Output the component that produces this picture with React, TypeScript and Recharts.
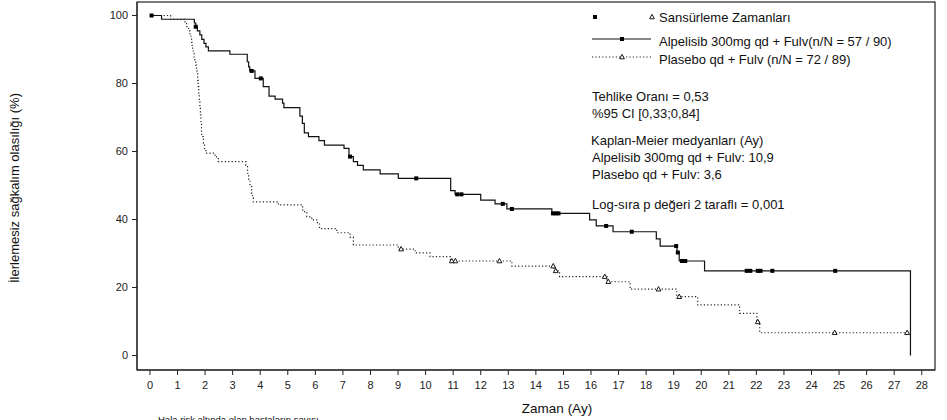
import React from 'react';
import { ComposedChart, Line, Scatter, XAxis, YAxis } from 'recharts';

// Alpelisib 300mg qd + Fulv: Kaplan-Meier step points (months, %)
const alpTimes = [0, 0.42, 1.61, 1.66, 1.72, 1.81, 1.88, 1.96, 2.03, 2.12, 2.9, 3.53, 3.58, 3.62, 3.81, 4.11, 4.32, 4.54, 4.81, 4.86, 5.44, 5.53, 5.6, 5.75, 6.13, 6.33, 7.04, 7.22, 7.38, 7.53, 7.74, 8.35, 9.01, 10.91, 11.07, 12.0, 12.52, 12.95, 14.58, 15.95, 16.19, 16.8, 18.37, 18.51, 19.12, 19.2, 20.12, 27.59];
const alpSurv = [100, 98.9, 97.8, 96.7, 95.5, 94.3, 93.0, 91.8, 90.8, 89.6, 88.6, 86.4, 84.9, 83.7, 81.5, 79.1, 76.3, 75.4, 74.2, 72.9, 70.4, 68.3, 65.5, 64.4, 63.2, 61.9, 60.9, 58.5, 57.0, 55.9, 54.6, 53.4, 52.1, 48.5, 47.4, 45.7, 44.6, 43.1, 41.8, 39.9, 38.1, 36.4, 34.3, 32.2, 30.3, 27.8, 24.9, 0];
const alpCensorTimes = [0.06, 1.66, 3.69, 4.02, 7.26, 9.66, 11.15, 11.3, 12.8, 13.13, 14.62, 14.72, 14.82, 16.55, 17.48, 19.09, 19.15, 19.3, 19.42, 21.65, 21.78, 22.05, 22.15, 22.58, 24.86];

// Plasebo qd + Fulv
const plaTimes = [0, 0.75, 1.27, 1.33, 1.4, 1.45, 1.49, 1.51, 1.53, 1.55, 1.57, 1.6, 1.63, 1.66, 1.69, 1.71, 1.73, 1.75, 1.77, 1.79, 1.81, 1.83, 1.85, 1.87, 1.88, 1.94, 1.98, 2.03, 2.36, 2.48, 3.48, 3.54, 3.58, 3.63, 3.69, 3.72, 3.75, 4.66, 5.54, 5.69, 5.87, 6.05, 6.15, 6.78, 7.26, 7.38, 9.01, 9.62, 10.16, 10.9, 13.13, 14.66, 14.86, 16.58, 17.42, 19.11, 19.87, 21.39, 22.02, 22.12, 27.5];
const plaSurv = [100, 98.9, 97.8, 96.7, 95.5, 94.4, 93.3, 92.1, 91.0, 89.9, 88.8, 87.6, 86.5, 85.4, 84.3, 83.1, 80.9, 79.1, 76.9, 74.6, 73.0, 70.8, 68.3, 65.5, 64.4, 62.4, 60.7, 59.5, 58.4, 57.0, 55.9, 53.6, 51.6, 49.7, 47.7, 46.4, 45.2, 44.3, 42.3, 40.8, 39.9, 39.1, 37.3, 36.1, 34.8, 32.5, 31.3, 30.2, 29.1, 27.8, 26.3, 24.9, 23.2, 21.7, 19.5, 17.3, 14.9, 12.4, 9.9, 6.7, 6.7];
const plaCensorTimes = [9.11, 10.95, 11.08, 12.68, 14.63, 14.72, 16.5, 16.63, 18.45, 19.2, 22.05, 24.84, 27.47];

const xTicks = [0, 1, 2, 3, 4, 5, 6, 7, 8, 9, 10, 11, 12, 13, 14, 15, 16, 17, 18, 19, 20, 21, 22, 23, 24, 25, 26, 27, 28];
const yTicks = [0, 20, 40, 60, 80, 100];

const FONT = '"Liberation Sans", Arial, Helvetica, sans-serif';

const toSeries = (ts: number[], ss: number[]) => ts.map((t, i) => ({ t, s: ss[i] }));
const stepAt = (ts: number[], ss: number[], t: number) => {
  let v = ss[0];
  for (let i = 0; i < ts.length; i++) if (ts[i] <= t) v = ss[i];
  return v;
};

const alpData = toSeries(alpTimes, alpSurv);
const plaData = toSeries(plaTimes, plaSurv);
const alpCensor = alpCensorTimes.map((t) => ({ t, s: stepAt(alpTimes, alpSurv, t) }));
const plaCensor = plaCensorTimes.map((t) => ({ t, s: stepAt(plaTimes, plaSurv, t) }));

const Square = (p: any) => {
  const { cx, cy } = p;
  if (cx == null || cy == null) return <g />;
  return <rect x={cx - 2} y={cy - 2} width={4} height={4} fill="#000" />;
};

const Tri = (p: any) => {
  const { cx, cy } = p;
  if (cx == null || cy == null) return <g />;
  return (
    <path
      d={`M${cx},${cy - 2.6} L${cx + 2.4},${cy + 1.8} L${cx - 2.4},${cy + 1.8} Z`}
      fill="#fff"
      stroke="#000"
      strokeWidth={0.9}
    />
  );
};

export default function App() {
  const txt = { fontFamily: FONT, fontSize: 13, fill: '#111' } as const;
  return (
    <div style={{ position: 'absolute', left: 0, top: 0, width: 947, height: 420, background: '#fff', overflow: 'hidden' }}>
      <ComposedChart
        width={947}
        height={420}
        margin={{ top: 2, right: 12, bottom: 20, left: 0 }}
        style={{ position: 'absolute', left: 0, top: 0 }}
      >
        <XAxis
          type="number"
          dataKey="t"
          domain={[-0.47, 28.48]}
          allowDataOverflow
          ticks={xTicks}
          interval={0}
          height={30}
          tickSize={5}
          tickMargin={6}
          stroke="#222"
          tick={{ fontSize: 11, fill: '#222', fontFamily: FONT }}
        />
        <YAxis
          type="number"
          dataKey="s"
          domain={[-4.26, 103.97]}
          allowDataOverflow
          ticks={yTicks}
          interval={0}
          width={137}
          tickSize={5}
          tickMargin={4}
          stroke="#222"
          tick={{ fontSize: 11, fill: '#222', fontFamily: FONT }}
        />
        <Line
          data={plaData}
          dataKey="s"
          type="stepAfter"
          stroke="#222"
          strokeWidth={1.2}
          strokeDasharray="1.2 2.2"
          dot={false}
          activeDot={false}
          isAnimationActive={false}
        />
        <Line
          data={alpData}
          dataKey="s"
          type="stepAfter"
          stroke="#111"
          strokeWidth={1.2}
          dot={false}
          activeDot={false}
          isAnimationActive={false}
        />
        <Scatter data={plaCensor} dataKey="s" shape={Tri} isAnimationActive={false} />
        <Scatter data={alpCensor} dataKey="s" shape={Square} isAnimationActive={false} />
      </ComposedChart>
      <svg
        width={947}
        height={420}
        style={{ position: 'absolute', left: 0, top: 0, pointerEvents: 'none' }}
      >
        <rect x={137} y={2} width={798} height={368} fill="none" stroke="#222" strokeWidth={1.2} />
        {/* legend */}
        <rect x={593} y={15} width={4} height={4} fill="#000" />
        <path d="M652,14.4 L654.4,18.8 L649.6,18.8 Z" fill="#fff" stroke="#000" strokeWidth={0.9} />
        <text x={659} y={22} {...txt}>Sansürleme Zamanları</text>
        <line x1={592} y1={39} x2={651} y2={39} stroke="#111" strokeWidth={1.2} />
        <rect x={620} y={37} width={4} height={4} fill="#000" />
        <text x={659} y={46} {...txt}>Alpelisib 300mg qd + Fulv(n/N = 57 / 90)</text>
        <line x1={592} y1={57} x2={651} y2={57} stroke="#222" strokeWidth={1.2} strokeDasharray="1.2 2.2" />
        <path d="M622,54.4 L624.4,58.8 L619.6,58.8 Z" fill="#fff" stroke="#000" strokeWidth={0.9} />
        <text x={659} y={64} {...txt}>Plasebo qd + Fulv (n/N = 72 / 89)</text>
        {/* statistics */}
        <text x={592} y={101} {...txt}>Tehlike Oranı = 0,53</text>
        <text x={592} y={118} {...txt}>%95 CI [0,33;0,84]</text>
        <text x={591} y={145} {...txt}>Kaplan-Meier medyanları (Ay)</text>
        <text x={592} y={162} {...txt}>Alpelisib 300mg qd + Fulv: 10,9</text>
        <text x={592} y={179} {...txt}>Plasebo qd + Fulv: 3,6</text>
        <text x={592} y={209} {...txt}>Log-sıra p değeri 2 taraflı = 0,001</text>
        {/* axis titles */}
        <text x={557} y={413} textAnchor="middle" fontFamily={FONT} fontSize={13.5} fill="#111">Zaman (Ay)</text>
        <text
          x={0}
          y={0}
          textAnchor="middle"
          transform="translate(19,188) rotate(-90)"
          {...txt}
        >
          İlerlemesiz sağkalım olasılığı (%)
        </text>
        <text x={158} y={423} fontFamily={FONT} fontSize={9.5} fill="#111">Hala risk altında olan hastaların sayısı</text>
      </svg>
    </div>
  );
}
